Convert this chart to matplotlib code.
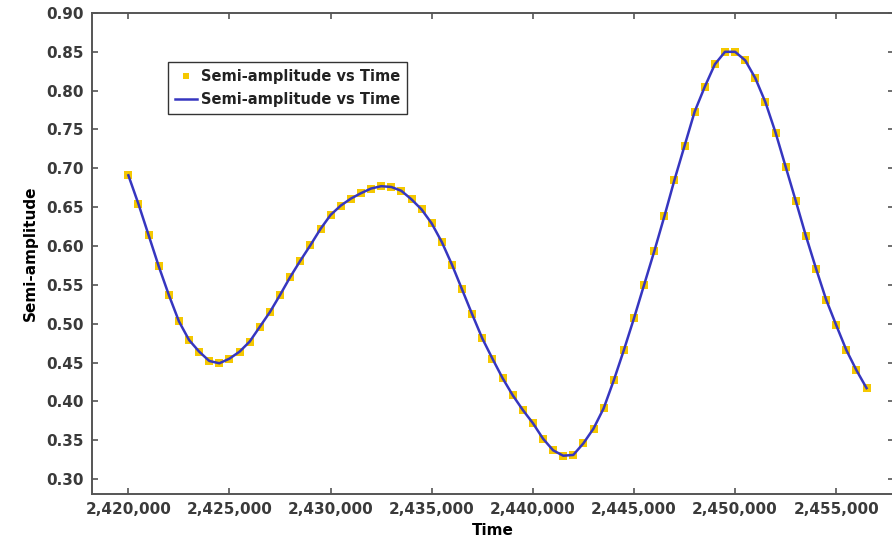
import matplotlib
matplotlib.use("Agg")
from matplotlib import pyplot as plt
from matplotlib.ticker import FuncFormatter, MultipleLocator

# 数据
time = [2420000, 2420500, 2421000, 2421500, 2422000, 2422500, 2423000, 2423500,
        2424000, 2424500, 2425000, 2425500, 2426000, 2426500, 2427000, 2427500,
        2428000, 2428500, 2429000, 2429500, 2430000, 2430500, 2431000, 2431500,
        2432000, 2432500, 2433000, 2433500, 2434000, 2434500, 2435000, 2435500,
        2436000, 2436500, 2437000, 2437500, 2438000, 2438500, 2439000, 2439500,
        2440000, 2440500, 2441000, 2441500, 2442000, 2442500, 2443000, 2443500,
        2444000, 2444500, 2445000, 2445500, 2446000, 2446500, 2447000, 2447500,
        2448000, 2448500, 2449000, 2449500, 2450000, 2450500, 2451000, 2451500,
        2452000, 2452500, 2453000, 2453500, 2454000, 2454500, 2455000, 2455500,
        2456000, 2456500]
semi_amp = [0.691, 0.654, 0.614, 0.574, 0.537, 0.503, 0.479, 0.464,
            0.452, 0.449, 0.455, 0.464, 0.477, 0.496, 0.515, 0.537,
            0.560, 0.581, 0.601, 0.622, 0.640, 0.652, 0.661, 0.668,
            0.674, 0.677, 0.676, 0.671, 0.660, 0.647, 0.629, 0.605,
            0.576, 0.544, 0.512, 0.481, 0.455, 0.430, 0.408, 0.389,
            0.372, 0.352, 0.337, 0.330, 0.331, 0.346, 0.365, 0.391,
            0.427, 0.466, 0.507, 0.550, 0.593, 0.638, 0.685, 0.729,
            0.773, 0.805, 0.834, 0.850, 0.850, 0.839, 0.816, 0.785,
            0.746, 0.702, 0.658, 0.613, 0.571, 0.531, 0.498, 0.466,
            0.440, 0.417]
x_ticks = [2420000, 2425000, 2430000, 2435000, 2440000, 2445000, 2450000, 2455000]
label = "Semi-amplitude vs Time"

fig = plt.figure(figsize=(8.92, 5.5), dpi=100)
ax = fig.add_axes([0.1031, 0.1018, 0.899, 0.8746])

# 绘图
ax.plot(time, semi_amp, linestyle='none', marker='s', markersize=6,
        markeredgewidth=0, color='#f5c800', label=label, zorder=2)
ax.plot(time, semi_amp, color='#3636c0', linewidth=1.8, label=label, zorder=3)

ax.set_xlim(2418200, 2457850)
ax.set_ylim(0.2807, 0.90)
ax.set_xticks(x_ticks)
ax.yaxis.set_major_locator(MultipleLocator(0.05))
ax.xaxis.set_major_formatter(FuncFormatter(lambda v, p: "{:,.0f}".format(v)))
ax.yaxis.set_major_formatter(FuncFormatter(lambda v, p: "{:.2f}".format(v)))

for s in ax.spines.values():
    s.set_color('#555555')
    s.set_linewidth(1.4)
ax.tick_params(direction='in', length=4.5, width=1.2, color='#555555',
               top=True, right=True, labelsize=11, labelcolor='#3a3a3a', pad=6)
for t in ax.get_xticklabels() + ax.get_yticklabels():
    t.set_fontweight('bold')

ax.set_xlabel("Time", fontsize=11, fontweight='bold', labelpad=4)
ax.set_ylabel("Semi-amplitude", fontsize=11, fontweight='bold', labelpad=6)

# 图例
leg = ax.legend(loc='upper left', bbox_to_anchor=(0.095, 0.898), fontsize=10.5,
                frameon=True, fancybox=False, borderpad=0.45, handlelength=1.5,
                handletextpad=0.3, labelspacing=0.6, borderaxespad=0,
                markerscale=0.8)
leg.get_frame().set_edgecolor('black')
leg.get_frame().set_linewidth(1.0)
for t in leg.get_texts():
    t.set_fontweight('bold')
    t.set_color('#222222')

fig.savefig("out.png", dpi=100)
